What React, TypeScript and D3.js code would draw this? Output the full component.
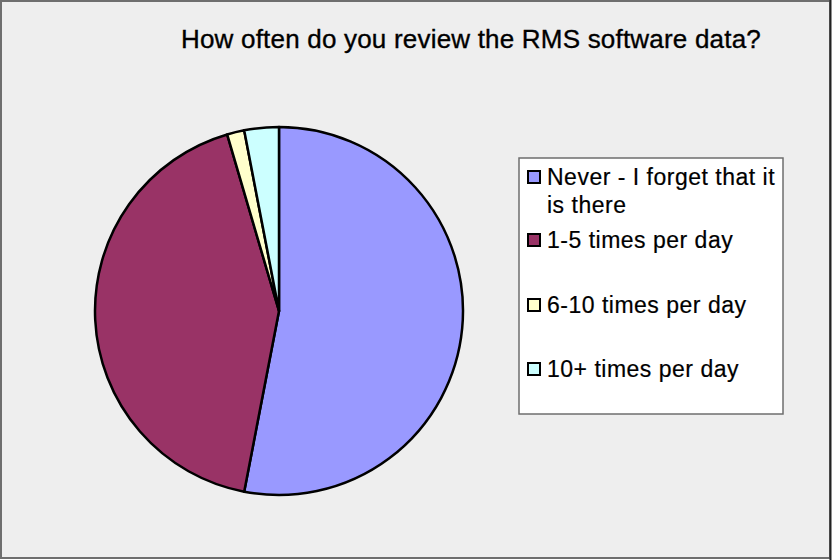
import React, { useEffect, useRef } from "react";
import * as d3 from "d3";

const categories = [
  "Never - I forget that it is there",
  "1-5 times per day",
  "6-10 times per day",
  "10+ times per day",
];
const legendLines = [
  ["Never - I forget that it", "is there"],
  ["1-5 times per day"],
  ["6-10 times per day"],
  ["10+ times per day"],
];
const responses = [35, 28, 1, 2];
const colors = ["#9999ff", "#993366", "#ffffcc", "#ccffff"];
const title = "How often do you review the RMS software data?";

const App = () => {
  const ref = useRef<SVGSVGElement>(null);

  useEffect(() => {
    const svg = d3.select(ref.current);
    svg.selectAll("*").remove();

    const font = "'Liberation Sans', Arial, sans-serif";

    // outer frame
    svg
      .append("rect")
      .attr("x", 1)
      .attr("y", 1)
      .attr("width", 829)
      .attr("height", 557)
      .attr("fill", "#eeeeee")
      .attr("stroke", "#6e6e6e")
      .attr("stroke-width", 2);
    svg
      .append("line")
      .attr("x1", 830.5)
      .attr("x2", 830.5)
      .attr("y1", 0)
      .attr("y2", 560)
      .attr("stroke", "#222")
      .attr("stroke-width", 2);

    svg
      .append("text")
      .attr("x", 471)
      .attr("y", 48)
      .attr("text-anchor", "middle")
      .style("font-family", font)
      .style("font-size", "26px")
      .style("letter-spacing", "0.2px")
      .attr("fill", "#000")
      .attr("stroke", "#000")
      .attr("stroke-width", 0.35)
      .text(title);

    // pie
    const pie = d3
      .pie<number>()
      .sort(null)
      .value(d => d);
    const arc = d3
      .arc<d3.PieArcDatum<number>>()
      .innerRadius(0)
      .outerRadius(184);

    const g = svg.append("g").attr("transform", "translate(279,311)");
    g.selectAll("path")
      .data(pie(responses))
      .enter()
      .append("path")
      .attr("d", arc)
      .attr("fill", (d, i) => colors[i])
      .attr("stroke", "#000")
      .attr("stroke-width", 2.5)
      .attr("stroke-linejoin", "round");

    // legend
    const lg = svg.append("g");
    lg.append("rect")
      .attr("x", 519)
      .attr("y", 158)
      .attr("width", 264)
      .attr("height", 256)
      .attr("fill", "#fff")
      .attr("stroke", "#6e6e6e")
      .attr("stroke-width", 1.5);

    const rowY = d3
      .scaleOrdinal<string, number>()
      .domain(categories)
      .range([185, 248, 313, 377]);

    categories.forEach((c, i) => {
      const y = rowY(c);
      lg.append("rect")
        .attr("x", 528)
        .attr("y", y - 14)
        .attr("width", 12)
        .attr("height", 12)
        .attr("fill", colors[i])
        .attr("stroke", "#000")
        .attr("stroke-width", 2);
      const t = lg
        .append("text")
        .attr("x", 547)
        .attr("y", y)
        .style("font-family", font)
        .style("font-size", "23px")
        .style("letter-spacing", "0.5px")
        .attr("fill", "#000")
        .attr("stroke", "#000")
        .attr("stroke-width", 0.2);
      legendLines[i].forEach((line, j) => {
        t.append("tspan")
          .attr("x", 547)
          .attr("dy", j === 0 ? 0 : 28)
          .text(line);
      });
    });
  }, []);

  return (
    <svg
      ref={ref}
      width={832}
      height={560}
      style={{ position: "absolute", left: 0, top: 0, display: "block" }}
    ></svg>
  );
};

export default App;
